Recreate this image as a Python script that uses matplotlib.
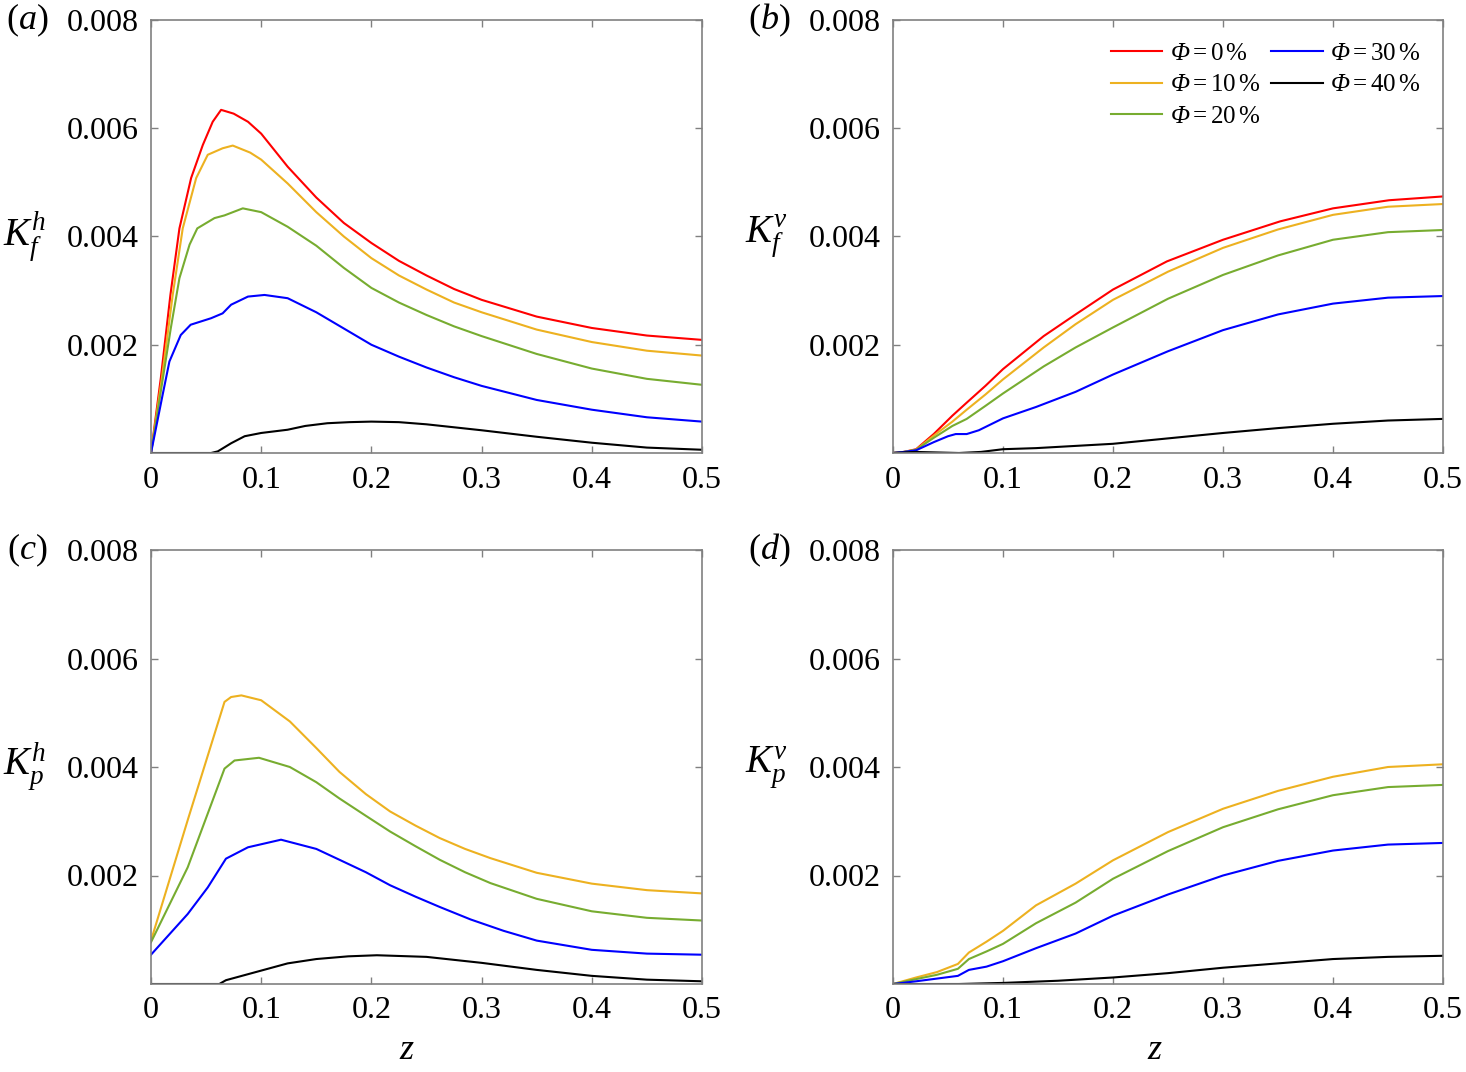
import matplotlib
matplotlib.use("Agg")
import matplotlib.pyplot as plt

plt.rcParams["font.family"] = ["Liberation Serif", "DejaVu Serif"]
# custom math fonts; "bf" is pointed at the italic face so that a capital Phi can be italic
plt.rcParams["mathtext.fontset"] = "custom"
plt.rcParams["mathtext.rm"] = "Liberation Serif"
plt.rcParams["mathtext.it"] = "Liberation Serif:italic"
plt.rcParams["mathtext.bf"] = "Liberation Serif:italic"

# colours for the five volume fractions
colors = {"0": "#ff0000", "10": "#edb120", "20": "#77ac30", "30": "#0000ff", "40": "#000000"}
phis = ["0", "10", "20", "30", "40"]

# ---- panel (a): K_f^h  (values in units of 1e-3)
z_a_0 = [0, 0.009, 0.0176, 0.0258, 0.0364, 0.047, 0.056, 0.0636, 0.075, 0.088, 0.1, 0.124, 0.15, 0.175,
         0.2, 0.225, 0.25, 0.275, 0.3, 0.35, 0.4, 0.45, 0.5]
k_a_0 = [0, 1.4, 2.92, 4.15, 5.08, 5.69, 6.12, 6.34, 6.27, 6.12, 5.9, 5.29, 4.72, 4.25,
         3.88, 3.55, 3.28, 3.03, 2.83, 2.52, 2.31, 2.17, 2.09]
z_a_10 = [0, 0.01, 0.0197, 0.0288, 0.041, 0.0515, 0.065, 0.0742, 0.09, 0.1, 0.124, 0.15, 0.175,
          0.2, 0.225, 0.25, 0.275, 0.3, 0.35, 0.4, 0.45, 0.5]
k_a_10 = [0, 1.4, 2.92, 4.15, 5.08, 5.51, 5.63, 5.68, 5.55, 5.42, 4.98, 4.45, 4.0,
          3.6, 3.28, 3.02, 2.78, 2.6, 2.28, 2.05, 1.89, 1.80]
z_a_20 = [0, 0.009, 0.018, 0.0258, 0.035, 0.042, 0.0576, 0.0667, 0.0833, 0.1, 0.124, 0.15, 0.175,
          0.2, 0.225, 0.25, 0.275, 0.3, 0.35, 0.4, 0.45, 0.5]
k_a_20 = [0, 1.15, 2.31, 3.23, 3.85, 4.15, 4.34, 4.39, 4.52, 4.45, 4.18, 3.83, 3.42,
          3.05, 2.78, 2.55, 2.34, 2.16, 1.83, 1.56, 1.37, 1.26]
z_a_30 = [0, 0.0106, 0.0167, 0.027, 0.036, 0.0545, 0.065, 0.0727, 0.088, 0.103, 0.124, 0.15, 0.175,
          0.2, 0.225, 0.25, 0.275, 0.3, 0.35, 0.4, 0.45, 0.5]
k_a_30 = [0, 1.08, 1.69, 2.18, 2.37, 2.49, 2.58, 2.74, 2.89, 2.92, 2.86, 2.6, 2.3,
          2.0, 1.78, 1.58, 1.4, 1.24, 0.98, 0.8, 0.66, 0.58]
z_a_40 = [0, 0.0545, 0.0606, 0.0727, 0.085, 0.1, 0.124, 0.14, 0.16, 0.18, 0.2, 0.225, 0.25,
          0.3, 0.35, 0.4, 0.45, 0.5]
k_a_40 = [0, 0, 0.03, 0.18, 0.31, 0.37, 0.43, 0.5, 0.55, 0.57, 0.58, 0.57, 0.53,
          0.42, 0.30, 0.19, 0.1, 0.06]

# ---- panel (b): K_f^v
z_b_0 = [0, 0.01, 0.021, 0.037, 0.054, 0.067, 0.084, 0.1, 0.137, 0.166, 0.2, 0.249, 0.3, 0.352, 0.4, 0.451, 0.5]
k_b_0 = [0, 0.02, 0.07, 0.35, 0.69, 0.93, 1.24, 1.55, 2.16, 2.56, 3.02, 3.54, 3.94, 4.28, 4.52, 4.67, 4.74]
z_b_10 = [0, 0.01, 0.021, 0.037, 0.054, 0.067, 0.084, 0.1, 0.137, 0.166, 0.2, 0.25, 0.3, 0.35, 0.4, 0.45, 0.5]
k_b_10 = [0, 0.02, 0.06, 0.32, 0.58, 0.8, 1.08, 1.36, 1.95, 2.38, 2.83, 3.35, 3.79, 4.13, 4.40, 4.55, 4.60]
z_b_20 = [0, 0.01, 0.021, 0.037, 0.054, 0.067, 0.084, 0.1, 0.137, 0.166, 0.2, 0.25, 0.3, 0.35, 0.4, 0.45, 0.5]
k_b_20 = [0, 0.02, 0.06, 0.28, 0.5, 0.63, 0.87, 1.1, 1.6, 1.95, 2.32, 2.85, 3.29, 3.65, 3.94, 4.08, 4.12]
z_b_30 = [0, 0.01, 0.021, 0.037, 0.05, 0.057, 0.067, 0.078, 0.1, 0.13, 0.166, 0.2, 0.25, 0.3, 0.35, 0.4, 0.45, 0.5]
k_b_30 = [0, 0.02, 0.05, 0.2, 0.31, 0.35, 0.35, 0.42, 0.64, 0.85, 1.13, 1.45, 1.88, 2.27, 2.56, 2.76, 2.87, 2.9]
z_b_40 = [0, 0.02, 0.04, 0.06, 0.08, 0.1, 0.13, 0.2, 0.25, 0.3, 0.35, 0.4, 0.45, 0.5]
k_b_40 = [0, 0.02, 0.01, 0.0, 0.02, 0.07, 0.09, 0.17, 0.27, 0.37, 0.46, 0.54, 0.6, 0.63]

# ---- panel (c): K_p^h
z_c_10 = [0, 0.0333, 0.0667, 0.0727, 0.082, 0.1, 0.126, 0.15, 0.171, 0.195, 0.217, 0.24, 0.262, 0.285,
          0.308, 0.35, 0.4, 0.45, 0.5]
k_c_10 = [0.8, 3.02, 5.2, 5.29, 5.32, 5.23, 4.84, 4.35, 3.91, 3.5, 3.18, 2.92, 2.69, 2.49,
          2.32, 2.05, 1.85, 1.73, 1.67]
z_c_20 = [0, 0.0333, 0.0667, 0.0758, 0.098, 0.126, 0.15, 0.171, 0.195, 0.217, 0.24, 0.262, 0.285, 0.308,
          0.35, 0.4, 0.45, 0.5]
k_c_20 = [0.77, 2.15, 3.97, 4.12, 4.17, 4.0, 3.72, 3.42, 3.1, 2.81, 2.54, 2.29, 2.06, 1.86,
          1.57, 1.34, 1.22, 1.17]
z_c_30 = [0, 0.0333, 0.0515, 0.068, 0.088, 0.118, 0.15, 0.171, 0.195, 0.217, 0.24, 0.262, 0.29, 0.32,
          0.35, 0.4, 0.45, 0.5]
k_c_30 = [0.54, 1.29, 1.78, 2.31, 2.52, 2.66, 2.49, 2.29, 2.06, 1.82, 1.61, 1.42, 1.19, 0.98,
          0.8, 0.63, 0.56, 0.54]
z_c_40 = [0, 0.062, 0.068, 0.124, 0.15, 0.179, 0.205, 0.25, 0.3, 0.35, 0.4, 0.45, 0.5]
k_c_40 = [0, 0, 0.07, 0.38, 0.46, 0.51, 0.53, 0.5, 0.39, 0.26, 0.15, 0.08, 0.05]

# ---- panel (d): K_p^v
z_d_10 = [0, 0.021, 0.04, 0.059, 0.069, 0.085, 0.1, 0.13, 0.166, 0.2, 0.25, 0.3, 0.35, 0.4, 0.45, 0.5]
k_d_10 = [0, 0.12, 0.22, 0.37, 0.58, 0.78, 0.98, 1.45, 1.85, 2.28, 2.8, 3.23, 3.56, 3.82, 4.0, 4.05]
z_d_20 = [0, 0.021, 0.04, 0.059, 0.069, 0.085, 0.1, 0.13, 0.166, 0.2, 0.25, 0.3, 0.35, 0.4, 0.45, 0.5]
k_d_20 = [0, 0.09, 0.17, 0.28, 0.46, 0.6, 0.74, 1.12, 1.5, 1.94, 2.45, 2.89, 3.22, 3.48, 3.63, 3.67]
z_d_30 = [0, 0.021, 0.04, 0.059, 0.069, 0.085, 0.1, 0.13, 0.166, 0.2, 0.25, 0.3, 0.35, 0.4, 0.45, 0.5]
k_d_30 = [0, 0.05, 0.1, 0.15, 0.26, 0.32, 0.42, 0.66, 0.93, 1.26, 1.65, 2.0, 2.27, 2.46, 2.57, 2.6]
z_d_40 = [0, 0.06, 0.1, 0.15, 0.2, 0.25, 0.3, 0.35, 0.4, 0.45, 0.5]
k_d_40 = [0, 0.0, 0.02, 0.06, 0.12, 0.2, 0.3, 0.38, 0.46, 0.5, 0.52]

panels = [
    ("a", r"$K_f^h$", {"0": (z_a_0, k_a_0), "10": (z_a_10, k_a_10), "20": (z_a_20, k_a_20),
                       "30": (z_a_30, k_a_30), "40": (z_a_40, k_a_40)}),
    ("b", r"$K_f^v$", {"0": (z_b_0, k_b_0), "10": (z_b_10, k_b_10), "20": (z_b_20, k_b_20),
                       "30": (z_b_30, k_b_30), "40": (z_b_40, k_b_40)}),
    ("c", r"$K_p^h$", {"10": (z_c_10, k_c_10), "20": (z_c_20, k_c_20),
                       "30": (z_c_30, k_c_30), "40": (z_c_40, k_c_40)}),
    ("d", r"$K_p^v$", {"10": (z_d_10, k_d_10), "20": (z_d_20, k_d_20),
                       "30": (z_d_30, k_d_30), "40": (z_d_40, k_d_40)}),
]

fig = plt.figure(figsize=(14.66, 10.72), dpi=100)
W, H = 1466, 1072
# axes boxes in pixels: left, top, right, bottom
boxes = [(151, 20, 702, 453), (893, 20, 1443, 453), (151, 550, 702, 984), (893, 550, 1443, 984)]

gray = "#808080"
for (tag, ylab, series), (l, t, r, b) in zip(panels, boxes):
    ax = fig.add_axes([l / W, 1 - b / H, (r - l) / W, (b - t) / H])
    for p in phis:
        if p in series:
            zz, kk = series[p]
            ax.plot(zz, [v * 1e-3 for v in kk], color=colors[p], lw=1.5,
                    label=r"$\mathbf{\Phi} = %s\,\%%$" % p)
    ax.set_xlim(0, 0.5)
    ax.set_ylim(0, 0.008)
    ax.set_xticks([0, 0.1, 0.2, 0.3, 0.4, 0.5])
    ax.set_xticklabels(["0", "0.1", "0.2", "0.3", "0.4", "0.5"])
    ax.set_yticks([0.002, 0.004, 0.006, 0.008])
    ax.set_yticklabels(["0.002", "0.004", "0.006", "0.008"])
    ax.tick_params(direction="in", top=True, right=True, length=5, width=1,
                   color=gray, labelsize=23, pad=9)
    for s in ax.spines.values():
        s.set_color(gray)
        s.set_linewidth(1.2)
    ax.text(-0.23, 0.5, ylab, transform=ax.transAxes, ha="center", va="center", fontsize=28)
    ax.text(-0.225, 1.0, r"$(\mathit{%s})$" % tag, transform=ax.transAxes,
            ha="center", va="center", fontsize=26)
    if tag in ("c", "d"):
        ax.set_xlabel(r"$z$", fontsize=26)
        ax.xaxis.set_label_coords(0.465 if tag == "c" else 0.476, -0.115)
    if tag == "b":
        ax.legend(ncol=2, loc="upper right", frameon=False, fontsize=18,
                  handlelength=2.05, columnspacing=0.45, labelspacing=0.36,
                  handletextpad=0.3, bbox_to_anchor=(1.0, 1.0))

fig.savefig("out.png", dpi=100)
